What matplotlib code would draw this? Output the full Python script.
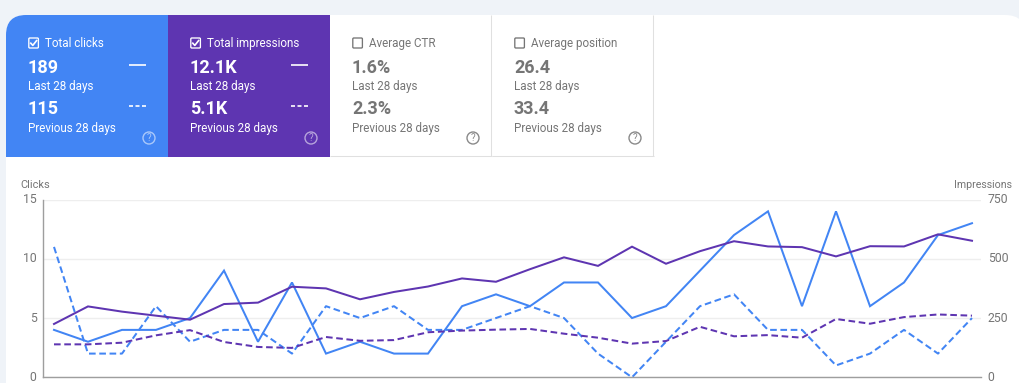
import matplotlib
matplotlib.use("Agg")
import matplotlib.pyplot as plt
from matplotlib.patches import PathPatch, Rectangle, Circle, FancyBboxPatch
from matplotlib.path import Path
from matplotlib.transforms import ScaledTranslation

plt.rcParams['font.family'] = ['Roboto', 'DejaVu Sans']

days = list(range(28))
clicks_last = [4, 3, 4, 4, 5, 9, 3, 8, 2, 3, 2, 2, 6, 7, 6, 8, 8, 5, 6, 9, 12, 14, 6, 14, 6, 8, 12, 13]
clicks_prev = [11, 2, 2, 6, 3, 4, 4, 2, 6, 5, 6, 4, 4, 5, 6, 5, 2, 0, 3, 6, 7, 4, 4, 1, 2, 4, 2, 5]
impr_last = [225, 299, 277, 260, 243, 309, 315, 382, 375, 329, 360, 383, 417, 403, 456, 506, 470, 551,
             479, 532, 574, 552, 549, 510, 553, 552, 603, 576]
impr_prev = [139, 139, 146, 177, 199, 149, 128, 124, 170, 154, 157, 190, 197, 201, 204, 184, 167, 142,
             153, 213, 173, 178, 167, 246, 226, 254, 265, 260]
clicks_ticks = [0, 5, 10, 15]
impr_ticks = [0, 250, 500, 750]

card_titles = ["Total clicks", "Total impressions", "Average CTR", "Average position"]
card_last = ["189", "12.1K", "1.6%", "26.4"]
card_prev = ["115", "5.1K", "2.3%", "33.4"]
card_checked = [True, True, False, False]
period_last = "Last 28 days"
period_prev = "Previous 28 days"

BG = "#eff3f8"
BLUE = "#4285f4"
PURPLE = "#5e35b1"
GREY = "#757575"
BORDER = "#e0e0e0"
GRID = "#eeeeee"
W, H = 1020, 383

fig = plt.figure(figsize=(W / 100, H / 100), dpi=100, facecolor=BG)
ui = fig.add_axes([0, 0, 1, 1])
ui.set_xlim(0, W)
ui.set_ylim(H, 0)
ui.axis("off")


def rounded(x0, y0, x1, y1, tl=0, tr=0):
    verts = [(x0, y1), (x0, y0 + tl), (x0, y0), (x0 + tl, y0), (x1 - tr, y0), (x1, y0), (x1, y0 + tr), (x1, y1), (x0, y1)]
    codes = [Path.MOVETO, Path.LINETO, Path.CURVE3, Path.CURVE3, Path.LINETO, Path.CURVE3, Path.CURVE3, Path.LINETO, Path.CLOSEPOLY]
    return Path(verts, codes)


ui.add_patch(PathPatch(rounded(6, 15, 1026, H + 5, tl=20, tr=21), fc="white", ec="none", zorder=1))

card_x = [6, 168, 330, 492]
card_w = 162
for i, title in enumerate(card_titles):
    x0 = card_x[i]
    checked = card_checked[i]
    if i == 0:
        ui.add_patch(PathPatch(rounded(x0, 15, x0 + card_w, 157, tl=20), fc=BLUE, ec="none", zorder=2))
    elif i == 1:
        ui.add_patch(Rectangle((x0, 15), card_w, 142, fc=PURPLE, ec="none", zorder=2))
    else:
        xr = x0 + card_w - 0.5
        ui.plot([xr, xr], [15, 156], color=BORDER, lw=0.75, zorder=2, solid_capstyle="butt")
        ui.plot([x0, x0 + card_w], [156.2, 156.2], color=BORDER, lw=0.75, zorder=2, solid_capstyle="butt")
    fg = "white" if checked else GREY
    tx = x0 + 22
    ui.add_patch(FancyBboxPatch((tx + 0.8, 38.0), 9.6, 10, boxstyle="round,pad=0,rounding_size=1",
                                fc="none", ec=fg, lw=0.95, zorder=3))
    if checked:
        ui.plot([tx + 2.8, tx + 4.8, tx + 8.6], [43.2, 45.4, 40.6], color=fg, lw=1.2, zorder=4)
    ui.text(tx + 17.5, 43.2, title, color=fg, fontsize=8.4, va="center", ha="left", zorder=4)
    ui.text(tx, 68, card_last[i], color=fg, fontsize=13, fontweight="bold", va="center", ha="left", zorder=4)
    ui.text(tx, 86.3, period_last, color=fg, fontsize=8.35, va="center", ha="left", zorder=4)
    ui.text(tx, 109, card_prev[i], color=fg, fontsize=13, fontweight="bold", va="center", ha="left", zorder=4)
    ui.text(tx, 128.3, period_prev, color=fg, fontsize=8.35, va="center", ha="left", zorder=4)
    if checked:
        ui.plot([x0 + 123, x0 + 140], [65, 65], color="white", lw=1.2, zorder=4, solid_capstyle="butt")
        ui.plot([x0 + 123, x0 + 140], [106, 106], color="white", lw=1.2, dashes=(2.4, 1.5), zorder=4,
                dash_capstyle="butt")
    alpha = 0.55 if checked else 1
    hc = "white" if checked else "#8a8a8a"
    ui.add_patch(Circle((x0 + 143, 138), 6, fc="none", ec=hc, lw=1.0, alpha=alpha, zorder=4))
    ui.text(x0 + 143, 138.2, "?", color=hc, fontsize=7, alpha=alpha, ha="center", va="center", zorder=4)

ui.text(20.8, 184.5, "Clicks", color=GREY, fontsize=7.9, ha="left", va="center", zorder=4)
ui.text(1012, 184.5, "Impressions", color=GREY, fontsize=7.7, ha="right", va="center", zorder=4)

left, right, top, bottom = 43.5, 981.5, 199.5, 377.3
rect = [left / W, 1 - bottom / H, (right - left) / W, (bottom - top) / H]
ax = fig.add_axes(rect, facecolor="none")
ax.set_xlim(-(54 - left) / 34, (right - 54) / 34)
ax.set_ylim(0, 15)
ax.set_yticks(clicks_ticks)
ax.set_xticks([])
ax.grid(axis="y", color=GRID, lw=1)
ax.set_axisbelow(True)
for s in ("top", "right"):
    ax.spines[s].set_visible(False)
for s in ("left", "bottom"):
    ax.spines[s].set_color("#9e9e9e")
    ax.spines[s].set_linewidth(1)
ax.tick_params(axis="y", length=0, pad=5, labelsize=8.8, labelcolor=GREY)

ax2 = ax.twinx()
ax2.set_ylim(0, 750)
ax2.set_yticks(impr_ticks)
ax2.tick_params(axis="y", length=0, pad=4.5, labelsize=8.8, labelcolor=GREY)
for s in ax2.spines.values():
    s.set_visible(False)

# tick labels sit slightly above their gridlines, as in the reference
nudge = ScaledTranslation(0, 1.5 / 100, fig.dpi_scale_trans)
for lab in ax.get_yticklabels() + ax2.get_yticklabels():
    lab.set_transform(lab.get_transform() + nudge)

LW = 1.45
DASH = (3.3, 1.8)
ax.plot(days, clicks_last, color=BLUE, lw=LW, clip_on=False, solid_joinstyle="miter")
ax.plot(days, clicks_prev, color=BLUE, lw=LW, dashes=DASH, clip_on=False)
ax2.plot(days, impr_last, color=PURPLE, lw=LW, clip_on=False, solid_joinstyle="miter")
ax2.plot(days, impr_prev, color=PURPLE, lw=LW, dashes=DASH, clip_on=False)

fig.savefig("out.png", dpi=100, facecolor=BG)
